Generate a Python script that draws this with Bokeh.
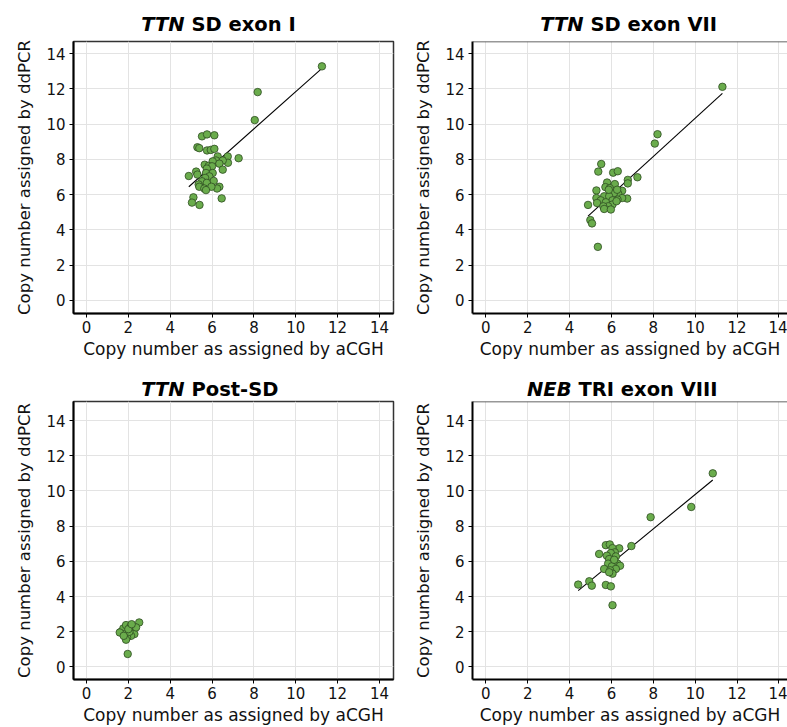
from bokeh.plotting import figure
from bokeh.models import Range1d, Span, FixedTicker
from bokeh.layouts import column, row
from bokeh.core.properties import value
from bokeh.embed import file_html
from bokeh.resources import INLINE

# ---------------- data ----------------
titles_gene = ["TTN", "TTN", "TTN", "NEB"]
titles_rest = ["SD exon I", "SD exon VII", "Post-SD", "TRI exon VIII"]
x_label = "Copy number as assigned by aCGH"
y_label = "Copy number assigned by ddPCR"
tick_values = [0, 2, 4, 6, 8, 10, 12, 14]

# Panel 1: TTN SD exon I
p1_x = [11.25, 8.18, 8.04, 5.52, 5.76, 6.11, 5.30, 5.39, 5.76, 5.94, 6.11, 7.27, 6.75, 6.76, 6.27,
        6.19, 6.03, 6.51, 6.35, 5.65, 5.84, 6.00, 6.51, 5.75, 4.89, 5.24, 5.30, 5.71, 6.03, 5.87,
        5.67, 5.52, 6.08, 5.36, 5.75, 6.35, 6.24, 5.39, 5.63, 5.97, 5.71, 5.11, 5.04, 5.40, 6.46]
p1_y = [13.28, 11.82, 10.23, 9.31, 9.42, 9.37, 8.69, 8.64, 8.51, 8.54, 8.60, 8.07, 8.17, 7.81, 8.17,
        7.94, 7.89, 7.94, 7.76, 7.70, 7.63, 7.61, 7.42, 7.48, 7.06, 7.31, 7.14, 7.23, 7.23, 7.04,
        6.95, 6.76, 6.78, 6.58, 6.67, 6.45, 6.35, 6.45, 6.35, 6.45, 6.26, 5.85, 5.55, 5.42, 5.79]
p1_fit_x = [4.89, 11.25]
p1_fit_y = [6.45, 13.17]

# Panel 2: TTN SD exon VII
p2_x = [11.30, 8.20, 8.07, 5.51, 5.37, 6.08, 6.30, 7.24, 6.78, 6.78, 5.79, 6.16, 5.71, 5.92, 5.28,
        6.51, 6.32, 6.12, 5.65, 5.28, 5.89, 6.75, 6.51, 6.29, 6.05, 5.49, 5.31, 5.73, 4.88, 6.05,
        5.84, 5.61, 6.24, 5.65, 5.97, 4.99, 5.07, 5.35, 5.87, 6.27]
p2_y = [12.12, 9.43, 8.90, 7.74, 7.31, 7.25, 7.33, 6.99, 6.84, 6.64, 6.69, 6.60, 6.43, 6.37, 6.24,
        6.22, 6.06, 6.09, 5.91, 5.81, 5.91, 5.78, 5.81, 5.72, 5.68, 5.68, 5.53, 5.57, 5.42, 5.44,
        5.34, 5.34, 5.63, 5.19, 5.16, 4.56, 4.37, 3.04, 6.28, 6.28]
p2_fit_x = [4.88, 11.30]
p2_fit_y = [4.78, 11.75]

# Panel 3: TTN Post-SD
p3_x = [2.52, 1.97, 1.65, 1.76, 1.89, 2.10, 2.21, 2.29, 2.13, 1.94, 1.81, 2.05, 1.89, 2.37, 1.59,
        2.00, 2.16, 1.78]
p3_y = [2.53, 0.74, 2.00, 2.19, 2.38, 2.30, 2.15, 1.87, 1.77, 1.68, 1.87, 2.00, 1.55, 2.25, 1.96,
        2.15, 2.43, 1.77]
p3_fit_x = [1.62, 2.45]
p3_fit_y = [1.90, 2.42]

# Panel 4: NEB TRI exon VIII
p4_x = [10.84, 9.81, 7.87, 6.95, 6.37, 5.73, 5.92, 6.05, 6.16, 5.97, 5.41, 5.78, 6.21, 5.89, 6.10,
        5.84, 6.29, 6.41, 6.02, 5.65, 6.21, 5.94, 6.05, 5.89, 4.94, 4.41, 5.06, 5.73, 5.97, 6.05,
        6.13]
p4_y = [11.00, 9.09, 8.51, 6.87, 6.74, 6.92, 6.96, 6.75, 6.51, 6.47, 6.42, 6.32, 6.28, 6.13, 6.00,
        5.87, 5.87, 5.75, 5.72, 5.57, 5.57, 5.49, 5.30, 5.38, 4.87, 4.68, 4.62, 4.66, 4.58, 3.51,
        6.09]
p4_fit_x = [4.41, 10.84]
p4_fit_y = [4.34, 10.62]

FONT = "DejaVu Sans"
TITLE_SIZE = "19.5px"


def title_fig(gene, rest, width, height, junction, baseline):
    t = figure(width=width, height=height, x_range=Range1d(0, width), y_range=Range1d(0, height),
               x_axis_type=None, y_axis_type=None, output_backend="svg", toolbar_location=None,
               title=None, min_border=0)
    t.outline_line_color = None
    t.background_fill_color = "white"
    t.border_fill_color = "white"
    t.text(x=[junction], y=[baseline], text=[gene], text_font=value(FONT),
           text_font_size=TITLE_SIZE, text_font_style="bold italic", text_align="right",
           text_baseline="alphabetic", text_color="black")
    t.text(x=[junction + 7], y=[baseline], text=[rest], text_font=value(FONT),
           text_font_size=TITLE_SIZE, text_font_style="bold", text_align="left",
           text_baseline="alphabetic", text_color="black")
    return t


def make(xs, ys, fx, fy, width, height, bl, br, bt, bb, xr, yr, clip_right=False):
    p = figure(width=width, height=height, x_range=Range1d(*xr), y_range=Range1d(*yr),
               output_backend="svg", toolbar_location=None, title=None,
               min_border_left=bl, min_border_right=br, min_border_top=bt, min_border_bottom=bb)
    p.background_fill_color = "white"
    p.border_fill_color = "white"
    if clip_right:
        p.outline_line_color = None
        p.add_layout(Span(location=yr[1], dimension="width", line_color="#333333", line_width=1.5))
    else:
        p.outline_line_color = "#333333"
        p.outline_line_width = 1.5

    for ax in (p.xaxis[0], p.yaxis[0]):
        ax.ticker = FixedTicker(ticks=tick_values)
        ax.axis_line_color = "black"
        ax.axis_line_width = 2
        ax.major_tick_line_color = "black"
        ax.major_tick_line_width = 1
        ax.major_tick_in = 0
        ax.major_tick_out = 4
        ax.minor_tick_line_color = None
        ax.major_label_text_font = FONT
        ax.major_label_text_font_size = "15px"
        ax.major_label_text_color = "#111111"
        ax.axis_label_text_font = FONT
        ax.axis_label_text_font_style = "normal"
        ax.axis_label_text_color = "#111111"
    p.xaxis.axis_label_text_font_size = "17px"
    p.yaxis.axis_label_text_font_size = "16.5px"
    p.xaxis.axis_label = x_label
    p.yaxis.axis_label = y_label
    p.xaxis.major_label_standoff = 3
    p.xaxis.axis_label_standoff = 3
    p.yaxis.major_label_standoff = 4
    p.yaxis.axis_label_standoff = 9

    p.xgrid.ticker = FixedTicker(ticks=tick_values)
    p.ygrid.ticker = FixedTicker(ticks=tick_values)
    p.grid.grid_line_color = "#e3e3e3"
    p.grid.grid_line_width = 1

    p.line(fx, fy, line_color="black", line_width=1.1)
    p.scatter(xs, ys, size=7.5, fill_color="#6aac4c", line_color="#2e4d22", line_width=0.8)
    return p


XR1 = (-0.62, 14.67)
XR2 = (-0.64, 14.41)
YR1 = (-0.74, 14.69)
YR2 = (-0.71, 15.08)

# row 1: title strip 0..35, plot 35..362 (frame 41..313)
t1 = title_fig(titles_gene[0], titles_rest[0], 398, 35, 184, 11)
t2 = title_fig(titles_gene[1], titles_rest[1], 389, 35, 185, 11)
f1 = make(p1_x, p1_y, p1_fit_x, p1_fit_y, 398, 327, 73, 5, 6, 49, XR1, YR1)
f2 = make(p2_x, p2_y, p2_fit_x, p2_fit_y, 389, 327, 74, 0, 6, 49, XR2, YR1, clip_right=True)

# row 2: title strip 362..400, plot 400..727 (frame 401..680)
t3 = title_fig(titles_gene[2], titles_rest[2], 398, 38, 184, 11)
t4 = title_fig(titles_gene[3], titles_rest[3], 389, 38, 173, 11)
f3 = make(p3_x, p3_y, p3_fit_x, p3_fit_y, 398, 327, 73, 5, 1, 47, XR1, YR2)
f4 = make(p4_x, p4_y, p4_fit_x, p4_fit_y, 389, 327, 74, 0, 1, 47, XR2, YR2, clip_right=True)

layout = column(row(t1, t2), row(f1, f2), row(t3, t4), row(f3, f4))
open("out.html", "w").write(file_html(layout, INLINE))
